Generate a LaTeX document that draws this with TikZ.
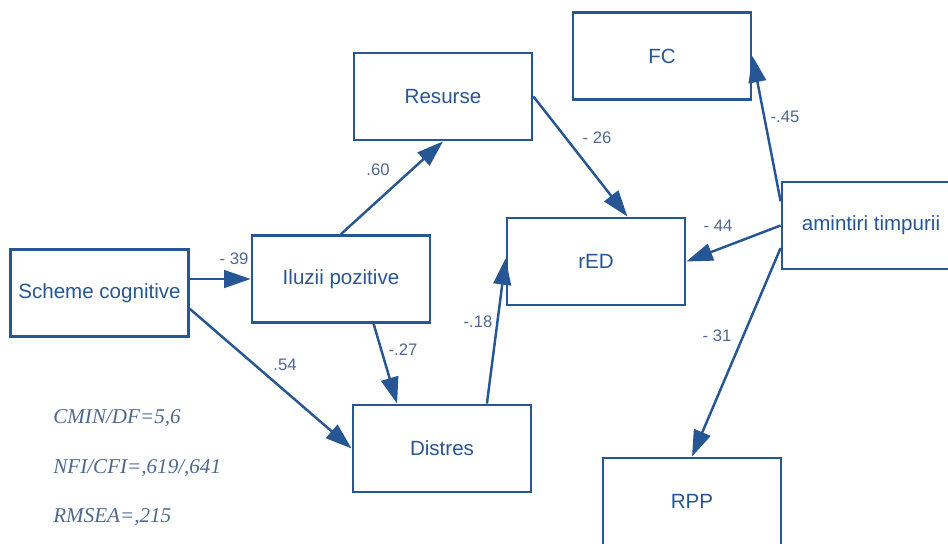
\documentclass[tikz,border=0pt]{standalone}
\usepackage{fontspec}
\setmainfont{Liberation Sans}
\newfontfamily\statfont{Liberation Serif}
\usetikzlibrary{arrows.meta}
\definecolor{pathblue}{RGB}{38,86,148}
\definecolor{coefblue}{RGB}{78,104,146}

\begin{document}
\begin{tikzpicture}[x=2cm,y=2cm,
  var/.style={draw=pathblue, line width=1.6pt, text=pathblue, minimum width=3.56cm, minimum height=1.74cm, inner sep=0pt, font=\fontsize{11.7}{14}\selectfont},
  link/.style={draw=pathblue, line width=1.4pt, -{Triangle[length=15pt,width=10pt]}},
  coef/.style={text=coefblue, inner sep=0pt, font=\fontsize{9.5}{11}\selectfont},
  stat/.style={text=coefblue, anchor=west, inner sep=0pt, font=\statfont\itshape\fontsize{12}{14}\selectfont}]

\clip (0,0) rectangle (9.48,5.44);

\node[var] (scheme) at (0.995,2.51) {Scheme cognitive};
\node[var] (iluzii) at (3.41,2.65) {Iluzii pozitive};
\node[var] (resurse) at (4.43,4.475) {Resurse};
\node[var] (red) at (5.96,2.825) {rED};
\node[var] (distres) at (4.42,0.955) {Distres};
\node[var] (fc) at (6.62,4.88) {FC};
\node[var] (amintiri) at (8.71,3.185) {amintiri timpurii};
\node[var] (rpp) at (6.92,0.425) {RPP};

\draw[link] (iluzii.west -| scheme.east) -- (iluzii.west);
\draw[link] (scheme.-10) -- (distres.west);
\draw[link] (iluzii.north) -- (resurse.south);
\draw[link] (iluzii.-54) -- (distres.135);
\draw[link] (resurse.east) -- (red.55);
\draw[link] (distres.45) -- (red.178);
\draw[link] (amintiri.west) -- (red.east);
\draw[link] (amintiri.165) -- (fc.east);
\draw[link] (amintiri.194) -- (rpp.north);

\node[coef] (c39) at (2.34,2.85) {- 39};
\node[coef] (c60) at (3.78,3.74) {.60};
\node[coef] (c26) at (5.97,4.06) {- 26};
\node[coef] (c44) at (7.18,3.18) {- 44};
\node[coef] (c45) at (7.85,4.27) {-.45};
\node[coef] (c31) at (7.17,2.08) {- 31};
\node[coef] (c27) at (4.03,1.94) {-.27};
\node[coef] (c54) at (2.85,1.79) {.54};
\node[coef] (c18) at (4.78,2.22) {-.18};

\node[stat] (cmin) at (0.53,1.26) {CMIN/DF=5,6};
\node[stat] (nfi) at (0.53,0.76) {NFI/CFI=,619/,641};
\node[stat] (rmsea) at (0.53,0.27) {RMSEA=,215};

\end{tikzpicture}
\end{document}
